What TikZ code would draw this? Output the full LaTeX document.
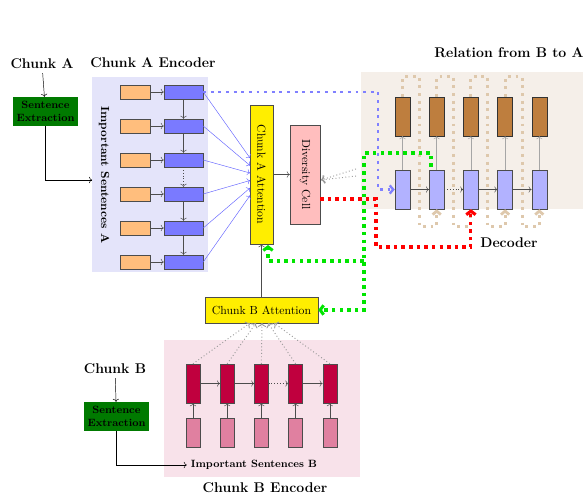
\documentclass[tikz,border=0pt]{standalone}
\usetikzlibrary{positioning,arrows.meta}
\definecolor{encpanel}{RGB}{228,228,250}
\definecolor{decpanel}{RGB}{245,239,233}
\definecolor{chbpanel}{RGB}{248,226,234}
\definecolor{sentorange}{RGB}{255,190,125}
\definecolor{encblue}{RGB}{122,122,255}
\definecolor{decblue}{RGB}{178,178,255}
\definecolor{outbrown}{RGB}{190,126,62}
\definecolor{hidred}{RGB}{192,0,62}
\definecolor{wordpink}{RGB}{224,128,160}
\definecolor{attyellow}{RGB}{255,238,0}
\definecolor{divpink}{RGB}{255,190,190}
\definecolor{extractgreen}{RGB}{0,122,0}
\definecolor{loopbrown}{RGB}{222,200,172}
\tikzset{
  title/.style={font=\bfseries\large},
  sentbox/.style={draw=black!70, fill=sentorange, minimum width=0.9cm, minimum height=0.42cm, inner sep=0pt},
  encbox/.style={draw=black!70, fill=encblue, minimum width=1.17cm, minimum height=0.42cm, inner sep=0pt},
  decbox/.style={draw=black!70, fill=decblue, minimum width=0.45cm, minimum height=1.17cm, inner sep=0pt},
  outbox/.style={draw=black!80, fill=outbrown, minimum width=0.45cm, minimum height=1.17cm, inner sep=0pt},
  hidbox/.style={draw=black!70, fill=hidred, minimum width=0.42cm, minimum height=1.17cm, inner sep=0pt},
  wordbox/.style={draw=black!70, fill=wordpink, minimum width=0.42cm, minimum height=0.87cm, inner sep=0pt},
  extract/.style={fill=extractgreen, minimum width=1.95cm, minimum height=0.87cm, font=\bfseries\small, align=center, inner sep=0pt},
  attn/.style={draw=black!70, fill=attyellow, inner sep=0pt},
  arr/.style={->, gray!60!black},
  blueline/.style={->, blue!60, thin},
  graydot/.style={->, gray!80, dotted, thick},
  bluedot/.style={-{Straight Barb[length=3pt,width=7pt]}, blue!50, line width=2pt, dash pattern=on 2.5pt off 4pt},
  greendot/.style={-{Straight Barb[length=3pt,width=8pt]}, green!90!black, line width=2.6pt, dash pattern=on 3pt off 3.5pt},
  reddot/.style={-{Straight Barb[length=3pt,width=8pt]}, red, line width=2.6pt, dash pattern=on 3pt off 3.5pt},
  loopdot/.style={-{Straight Barb[length=3pt,width=7pt]}, loopbrown, line width=2.4pt, dash pattern=on 2.5pt off 4pt}
}
\begin{document}
\begin{tikzpicture}[x=0.03cm,y=-0.03cm]
  \useasboundingbox (0,0) rectangle (583,498);
  % panels
  \fill[encpanel] (92,77) rectangle (208,272);
  \fill[decpanel] (361,72) rectangle (583,209);
  \fill[chbpanel] (164,340) rectangle (360,477);

  % chunk A side
  \node[title] (chA) at (42,64) {Chunk A};
  \node[extract] (seA) at (45.5,111.5) {Sentence\\Extraction};
  \node[title] (encAlbl) at (153,63) {Chunk A Encoder};
  \node[font=\bfseries, rotate=-90] (impA) at (104,175) {Important Sentences A};
  \coordinate (impAin) at (92,180);
  \draw[->] (chA) -- (seA);
  \draw[->] (seA.south) |- (impAin);

  \foreach \i in {0,...,5} {
    \node[sentbox] (s\i) at (135,92+34*\i) {};
    \node[encbox] (e\i) at (183.5,92+34*\i) {};
    \draw[arr] (s\i) -- (e\i);
  }
  \foreach \i/\j in {0/1,1/2,3/4,4/5}
    \draw[arr] (e\i) -- (e\j);
  \draw[arr, dotted] (e2) -- (e3);

  % attention and diversity
  \node[attn, rotate=-90, minimum width=4.17cm, minimum height=0.69cm] (attA) at (261.5,174.5) {Chunk A Attention};
  \node[draw=black!70, fill=divpink, rotate=-90, minimum width=2.97cm, minimum height=0.9cm, inner sep=0pt] (div) at (305,174.5) {Diversity Cell};
  \foreach \i in {0,...,5} {
    \coordinate (t\i) at (250,158+7.5*\i);
    \draw[blueline] (e\i.east) -- (t\i);
  }
  \draw[arr] (attA) -- (div);

  % decoder
  \node[title] (relBA) at (509,53) {Relation from B to A};
  \node[title] (decLbl) at (509,243) {Decoder};
  \foreach \i in {0,...,4} {
    \node[decbox] (d\i) at (402.5+34.2*\i,189.5) {};
    \node[outbox] (o\i) at (402.5+34.2*\i,116.5) {};
    \draw[arr, gray!70] (d\i) -- (o\i);
  }
  \foreach \i/\j in {0/1,2/3,3/4}
    \draw[arr] (d\i) -- (d\j);
  \draw[arr, dotted] (d1) -- (d2);
  \foreach \i/\j in {0/1,1/2,2/3,3/4}
    \draw[loopdot] (o\i.north) -- ++(0,-20) -- ++(17,0) -- ++(0,150) -| (d\j.south);

  \coordinate (dvA) at (356,169);
  \coordinate (dvB) at (356,176);
  \coordinate (dvin) at (321,180);
  \draw[graydot] (dvA) -- (dvin);
  \draw[graydot] (dvB) -- (dvin);

  % chunk B side
  \node[attn, minimum width=3.39cm, minimum height=0.78cm] (attB) at (261.5,310) {Chunk B Attention};
  \draw[arr] (attB) -- (attA);
  \node[title] (chB) at (115,369) {Chunk B};
  \node[extract] (seB) at (116.5,416.5) {Sentence\\Extraction};
  \node[font=\bfseries\small] (impB) at (254,465) {Important Sentences B};
  \node[title] (encBlbl) at (265,488) {Chunk B Encoder};
  \draw[->] (chB) -- (seB);
  \draw[->] (seB.south) |- (impB.west);

  \foreach \i in {0,...,4} {
    \node[hidbox] (h\i) at (193+34.2*\i,383.5) {};
    \node[wordbox] (w\i) at (193+34.2*\i,432.5) {};
    \draw[arr] (w\i) -- (h\i);
    \coordinate (b\i) at (250+6*\i,323);
    \draw[graydot] (h\i.north) -- (b\i);
  }
  \foreach \i/\j in {0/1,1/2,3/4}
    \draw[arr] (h\i) -- (h\j);
  \draw[arr, dotted] (h2) -- (h3);

  % relation connectors
  \draw[bluedot] (e0.east) -- (378,92) |- (d0.west);
  \coordinate (divout) at (320,199);
  \draw[reddot] (divout) -- (376,199) -- (376,247) -| (d2.south);
  \coordinate (gstart) at (431,167);
  \coordinate (gA) at (268,245);
  \draw[greendot] (gstart) |- (364,153) -- (364,310) -- (attB.east);
  \draw[greendot] (364,261) -| (gA);
\end{tikzpicture}
\end{document}
